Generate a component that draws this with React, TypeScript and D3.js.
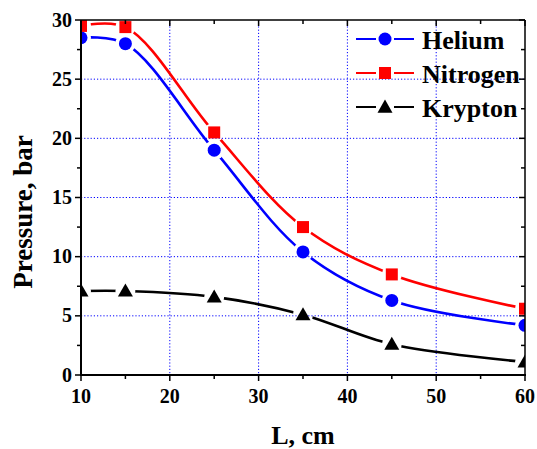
import React from "react";
import * as d3 from "d3";

const xValues = [10, 15, 25, 35, 45, 60];
const helium = [28.5, 28.0, 19.0, 10.4, 6.3, 4.2];
const nitrogen = [29.5, 29.4, 20.5, 12.5, 8.5, 5.6];
const krypton = [7.1, 7.1, 6.6, 5.1, 2.6, 1.1];
const seriesNames = ["Helium", "Nitrogen", "Krypton"];
const xTicks = [10, 20, 30, 40, 50, 60];
const yTicks = [0, 5, 10, 15, 20, 25, 30];

const W = 537, H = 449;
const L = 81, R = 525, T = 20, B = 375;
const fam = "Liberation Serif";

const series = [
  { name: seriesNames[0], values: helium, color: "#0000ff", shape: "circle" },
  { name: seriesNames[1], values: nitrogen, color: "#ff0000", shape: "square" },
  { name: seriesNames[2], values: krypton, color: "#000000", shape: "triangle" },
];

function Marker({ shape, x, y, color }: { shape: string; x: number; y: number; color: string }) {
  if (shape === "circle") return <circle cx={x} cy={y} r={6.5} fill={color} />;
  if (shape === "square") return <rect x={x - 6} y={y - 6} width={12} height={12} fill={color} />;
  const s = 7.5;
  return <path d={`M${x},${y - s}L${x + s},${y + s * 0.75}L${x - s},${y + s * 0.75}Z`} fill={color} />;
}

export default function App() {
  const x = d3.scaleLinear().domain([10, 60]).range([L, R]);
  const y = d3.scaleLinear().domain([0, 30]).range([B, T]);
  const line = d3
    .line<[number, number]>()
    .x((d) => x(d[0]))
    .y((d) => y(d[1]))
    .curve(d3.curveCatmullRom.alpha(0.5));
  const xMinor = d3.range(15, 60, 10);
  const yMinor = d3.range(2.5, 30, 5);
  return (
    <svg width={W} height={H} style={{ position: "absolute", left: 0, top: 0 }}>
      <defs>
        <clipPath id="plot">
          <rect x={L} y={T} width={R - L} height={B - T} />
        </clipPath>
        {series.map((s, i) => (
          <mask id={`gap${i}`} key={i} maskUnits="userSpaceOnUse" x={0} y={0} width={W} height={H}>
            <rect x={0} y={0} width={W} height={H} fill="#fff" />
            {s.values.map((v, j) => (
              <circle key={j} cx={x(xValues[j])} cy={y(v)} r={10} fill="#000" />
            ))}
          </mask>
        ))}
      </defs>
      {/* grid */}
      <g stroke="#0000ff" strokeWidth={1} strokeDasharray="1.2,2">
        {xTicks.slice(1, -1).map((t) => (
          <line key={t} x1={x(t)} x2={x(t)} y1={T} y2={B} />
        ))}
        {yTicks.slice(1, -1).map((t) => (
          <line key={t} x1={L} x2={R} y1={y(t)} y2={y(t)} />
        ))}
      </g>
      {/* curves and markers */}
      <g clipPath="url(#plot)">
        {series.map((s, i) => (
          <path
            key={s.name}
            d={line(xValues.map((xv, j) => [xv, s.values[j]] as [number, number])) || ""}
            fill="none"
            stroke={s.color}
            strokeWidth={2.6}
            mask={`url(#gap${i})`}
          />
        ))}
        {series.map((s) =>
          s.values.map((v, j) => (
            <Marker key={s.name + j} shape={s.shape} x={x(xValues[j])} y={y(v)} color={s.color} />
          ))
        )}
      </g>
      {/* frame */}
      <g stroke="#000" fill="none">
        <line x1={L} x2={R} y1={T} y2={T} strokeWidth={1.5} />
        <line x1={R} x2={R} y1={T} y2={B} strokeWidth={1.5} />
        <line x1={L} x2={L} y1={T} y2={B + 1} strokeWidth={2} />
        <line x1={L - 1} x2={R + 1} y1={B} y2={B} strokeWidth={2} />
        {xTicks.map((t) => (
          <g key={t}>
            <line x1={x(t)} x2={x(t)} y1={B} y2={B + 6} strokeWidth={1.5} />
            <line x1={x(t)} x2={x(t)} y1={T} y2={T + 6} strokeWidth={1.5} />
          </g>
        ))}
        {xMinor.map((t) => (
          <g key={t}>
            <line x1={x(t)} x2={x(t)} y1={B} y2={B + 4} strokeWidth={1.5} />
            <line x1={x(t)} x2={x(t)} y1={T} y2={T + 4} strokeWidth={1.5} />
          </g>
        ))}
        {yTicks.map((t) => (
          <g key={t}>
            <line x1={L - 6} x2={L} y1={y(t)} y2={y(t)} strokeWidth={1.5} />
            <line x1={R - 6} x2={R} y1={y(t)} y2={y(t)} strokeWidth={1.5} />
          </g>
        ))}
        {yMinor.map((t) => (
          <g key={t}>
            <line x1={L - 4} x2={L} y1={y(t)} y2={y(t)} strokeWidth={1.5} />
            <line x1={R - 4} x2={R} y1={y(t)} y2={y(t)} strokeWidth={1.5} />
          </g>
        ))}
      </g>
      {/* tick labels */}
      {xTicks.map((t) => (
        <text key={"x" + t} x={x(t)} y={B + 28} textAnchor="middle" style={{ fontFamily: `"${fam}"`, fontWeight: "bold", fontSize: 20 }}>
          {t}
        </text>
      ))}
      {yTicks.map((t) => (
        <text key={"y" + t} x={L - 9} y={y(t) + 6.5} textAnchor="end" style={{ fontFamily: `"${fam}"`, fontWeight: "bold", fontSize: 20 }}>
          {t}
        </text>
      ))}
      <text x={303} y={444} textAnchor="middle" style={{ fontFamily: `"${fam}"`, fontWeight: "bold", fontSize: 26 }}>
        L, cm
      </text>
      <text transform={`translate(32,212) rotate(-90)`} textAnchor="middle" style={{ fontFamily: `"${fam}"`, fontWeight: "bold", fontSize: 27 }}>
        Pressure, bar
      </text>
      {/* legend */}
      {series.map((s, i) => {
        const cy = 39 + i * 34;
        return (
          <g key={s.name}>
            <line x1={356} x2={376} y1={cy} y2={cy} stroke={s.color} strokeWidth={2} />
            <line x1={394} x2={414} y1={cy} y2={cy} stroke={s.color} strokeWidth={2} />
            <Marker shape={s.shape} x={385} y={cy} color={s.color} />
            <text x={422} y={cy + 10} style={{ fontFamily: `"${fam}"`, fontWeight: "bold", fontSize: 26 }}>
              {s.name}
            </text>
          </g>
        );
      })}
    </svg>
  );
}
